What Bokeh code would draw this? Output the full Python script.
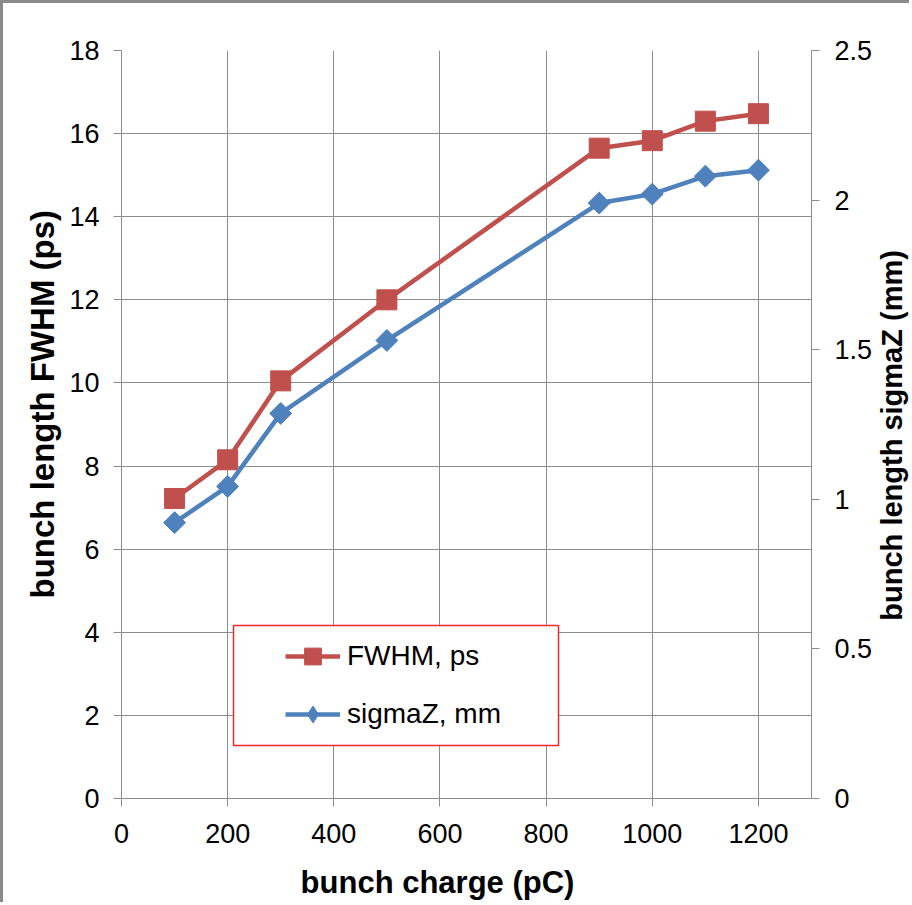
import math
from bokeh.plotting import figure
from bokeh.layouts import row, column
from bokeh.models import (Range1d, LinearAxis, FixedTicker, Legend, LegendItem,
                          BoxAnnotation, Title, Label)
from bokeh.embed import file_html
from bokeh.resources import INLINE

# ---- data ----
charge_pc = [100, 200, 300, 500, 900, 1000, 1100, 1200]
fwhm_ps = [7.22, 8.15, 10.05, 12.0, 15.65, 15.83, 16.3, 16.48]
sigmaz_mm = [0.922, 1.043, 1.287, 1.531, 1.99, 2.02, 2.08, 2.10]

x_ticks = [0, 200, 400, 600, 800, 1000, 1200]
left_ticks = [0, 2, 4, 6, 8, 10, 12, 14, 16, 18]
right_ticks = [0, 0.5, 1, 1.5, 2, 2.5]
right_tick_labels = ["0", "0.5", "1", "1.5", "2", "2.5"]

series_names = ["FWHM, ps", "sigmaZ, mm"]
x_title = "bunch charge (pC)"
left_title = "bunch length FWHM (ps)"
right_title = "bunch length sigmaZ (mm)"

RED = "#C0504D"
BLUE = "#4F81BD"
GRID = "#8c8c8c"
EDGE = "3px solid #8a8a8a"
FONT = "Liberation Sans"

X0, X1 = 0, 1300
Y0, Y1 = 0, 18

# page-pixel geometry (layout only)
PAGE_W, PAGE_H = 912, 905
B = 3                      # grey page edge (left / top)
FL, FR, FT, FB = 121, 811, 50, 798   # plot frame
SPLIT_X = 876              # right-title strip starts here
SPLIT_Y = 862              # bottom-title strip starts here


def px2x(px):
    return X0 + (px - FL) / (FR - FL) * (X1 - X0)


def py2y(py):
    return Y0 + (FB - py) / (FB - FT) * (Y1 - Y0)


W, H = SPLIT_X - B, SPLIT_Y - B
p = figure(width=W, height=H, output_backend="svg", toolbar_location=None,
           x_range=Range1d(X0, X1), y_range=Range1d(Y0, Y1),
           min_border_left=FL - B, min_border_top=FT - B,
           min_border_right=W - (FR - B), min_border_bottom=H - (FB - B))
p.styles = {"border-left": EDGE, "border-top": EDGE}
p.outline_line_color = None
p.background_fill_color = "white"
p.border_fill_color = "white"

p.extra_y_ranges = {"sig": Range1d(0, 2.5)}


def style_axis(ax, standoff):
    ax.axis_line_color = GRID
    ax.axis_line_width = 1
    ax.major_tick_line_color = GRID
    ax.major_tick_in = 0
    ax.major_tick_out = 8
    ax.minor_tick_line_color = None
    ax.major_label_text_font = FONT
    ax.major_label_text_font_size = "27px"
    ax.major_label_text_color = "#000000"
    ax.major_label_standoff = standoff


p.xaxis.ticker = FixedTicker(ticks=x_ticks)
p.yaxis.ticker = FixedTicker(ticks=left_ticks)
style_axis(p.xaxis[0], 17)
style_axis(p.yaxis[0], 14)

raxis = LinearAxis(y_range_name="sig", ticker=FixedTicker(ticks=right_ticks))
raxis.major_label_overrides = {t: s for t, s in zip(right_ticks, right_tick_labels)}
style_axis(raxis, 15)
p.add_layout(raxis, "right")

p.xgrid.ticker = FixedTicker(ticks=x_ticks)
p.ygrid.ticker = FixedTicker(ticks=left_ticks)
for g in (p.xgrid[0], p.ygrid[0]):
    g.grid_line_color = GRID
    g.grid_line_width = 1

# series
l1 = p.line(charge_pc, fwhm_ps, line_color=RED, line_width=4.5)
s1 = p.scatter(charge_pc, fwhm_ps, marker="square", size=20,
               fill_color=RED, line_color=RED)
l2 = p.line(charge_pc, sigmaz_mm, line_color=BLUE, line_width=4.5, y_range_name="sig")
s2 = p.scatter(charge_pc, sigmaz_mm, marker="square", angle=math.pi / 4, size=15.5,
               fill_color=BLUE, line_color=BLUE, y_range_name="sig")
# legend swatch for the diamond (legend glyphs are never rotated)
s2_key = p.scatter(charge_pc, sigmaz_mm, marker="diamond", size=15.5,
                   fill_color=BLUE, line_color=BLUE, y_range_name="sig", visible=False)

# legend box
box = BoxAnnotation(left=px2x(233), right=px2x(558), top=py2y(625), bottom=py2y(745),
                    fill_color="white", fill_alpha=1.0,
                    line_color="#f02828", line_width=1.5, line_alpha=1.0)
p.add_layout(box)

legend = Legend(items=[LegendItem(label=series_names[0], renderers=[l1, s1]),
                       LegendItem(label=series_names[1], renderers=[l2, s2_key])],
                location=(285 - FL, FB - 735), padding=0, margin=0, spacing=16,
                glyph_width=55, glyph_height=42, label_height=42, label_standoff=7,
                border_line_alpha=0, background_fill_alpha=0,
                label_text_font=FONT, label_text_font_size="28px",
                label_text_color="#000000")
p.add_layout(legend)

# left axis title
p.add_layout(Title(text=left_title, align="left", offset=FB - 598, standoff=12,
                   text_font=FONT, text_font_style="bold", text_font_size="33px",
                   text_color="#000000"), "left")

title_style = dict(text_font=FONT, text_font_style="bold", text_color="#000000",
                   text_align="center", text_baseline="middle")


def strip(width, height, xr, yr, styles):
    f = figure(width=width, height=height, output_backend="svg", toolbar_location=None,
               x_range=Range1d(*xr), y_range=Range1d(*yr),
               x_axis_location=None, y_axis_location=None, min_border=0)
    f.grid.visible = False
    f.outline_line_color = None
    f.background_fill_color = "white"
    f.border_fill_color = "white"
    f.styles = styles
    return f


# right axis title strip (reads bottom-to-top like the original)
p2 = strip(PAGE_W - SPLIT_X, SPLIT_Y - B, (SPLIT_X, PAGE_W), (SPLIT_Y, B),
           {"border-top": EDGE})
p2.add_layout(Label(x=894, y=445, text=right_title, angle=90, angle_units="deg",
                    text_font_size="29px", **title_style))

# bottom axis title strip
p3 = strip(PAGE_W - B, PAGE_H - SPLIT_Y, (B, PAGE_W), (PAGE_H, SPLIT_Y),
           {"border-left": EDGE})
p3.add_layout(Label(x=437, y=885, text=x_title, text_font_size="31px", **title_style))

layout = column(row(p, p2), p3)
open("out.html", "w").write(file_html(layout, INLINE))
